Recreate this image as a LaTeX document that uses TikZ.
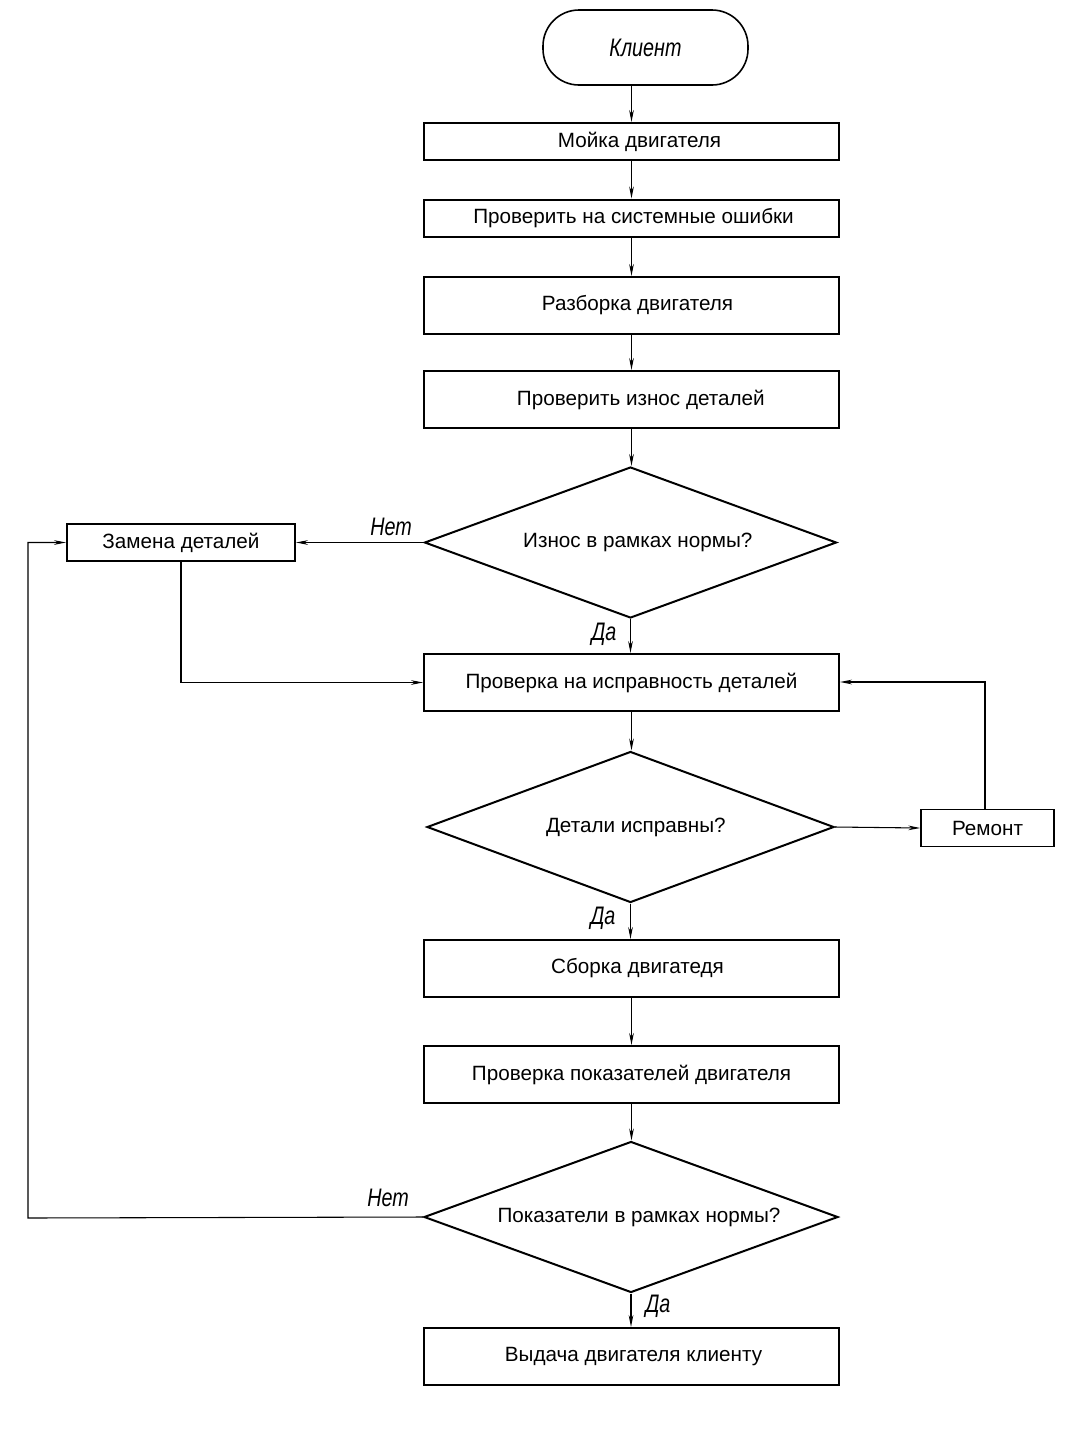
\documentclass[tikz,border=0pt]{standalone}
\usepackage{fontspec}
\setmainfont{Liberation Sans}
\newfontfamily\gost[FakeStretch=0.78]{Liberation Sans}
\usetikzlibrary{shapes.geometric,arrows.meta,calc}
\newcommand{\rsh}[1]{\hspace*{#1}}
\begin{document}
\begin{tikzpicture}[x=0.75pt,y=-0.75pt,
  font=\fontsize{15.5}{17}\selectfont,
  box/.style={draw,line width=1.5pt,rectangle,minimum width={415*0.75pt},inner sep=0pt},
  sbox/.style={box,minimum height={37*0.75pt}},
  tbox/.style={box,minimum height={57*0.75pt}},
  dec/.style={draw,line width=1.5pt,diamond,aspect=2.73,inner sep=0pt,minimum width={412*0.75pt},minimum height={151*0.75pt}},
  term/.style={draw,line width=1.2pt,rectangle,rounded corners=27pt,minimum width={205*0.75pt},minimum height={75*0.75pt}},
  lbl/.style={font=\gost\itshape\fontsize{19}{20}\selectfont},
  conn/.style={line width=0.8pt,-{Stealth[length=9pt,width=3.5pt]}},
  plain/.style={line width=0.8pt}]
\useasboundingbox (0,0) rectangle (1080,1432);
\fill[white] (0,0) rectangle (1080,1432);

\node[term] (t) at (645.5,47.5) {\gost\itshape\fontsize{19}{20}\selectfont Клиент};
\node[sbox] (b1) at (631.5,141.5) {\rsh{12pt}Мойка двигателя};
\node[sbox] (b2) at (631.5,218) {\rsh{3pt}Проверить на системные ошибки};
\node[tbox] (b3) at (631.5,305.5) {\rsh{9pt}Разборка двигателя};
\node[tbox] (b4) at (631.5,399.5) {\rsh{14pt}Проверить износ деталей};
\node[dec] (d1) at (630.5,542.5) {\rsh{11pt}Износ в рамках нормы?};
\node[sbox,minimum width={228*0.75pt}] (z) at (181,542.5) {Замена деталей};
\node[tbox] (b5) at (631.5,682.5) {Проверка на исправность деталей};
\node[dec,minimum width={407*0.75pt}] (d2) at (630.5,827) {\rsh{8pt}Детали исправны?};
\node[sbox,minimum width={133*0.75pt},line width=1.2pt] (r) at (987.5,828) {Ремонт};
\node[tbox] (b6) at (631.5,968.5) {\rsh{9pt}Сборка двигатедя};
\node[tbox] (b7) at (631.5,1074.5) {Проверка показателей двигателя};
\node[dec,minimum width={414*0.75pt}] (d3) at (631,1217) {\rsh{12pt}Показатели в рамках нормы?};
\node[tbox] (b8) at (631.5,1356.5) {\rsh{3pt}Выдача двигателя клиенту};

\draw[conn] (t.south -| b1.north) -- (b1.north);
\draw[conn] (b1) -- (b2);
\draw[conn] (b2) -- (b3);
\draw[conn] (b3) -- (b4);
\draw[conn] (b4.south) -- (b4.south |- d1.north);
\draw[conn] (d1.south) -- (d1.south |- b5.north);
\draw[conn] (b5.south) -- (b5.south |- d2.north);
\draw[conn] (d2.south) -- (d2.south |- b6.north);
\draw[conn] (b6) -- (b7);
\draw[conn] (b7.south) -- (b7.south |- d3.north);
\draw[conn] (d3.south) -- (d3.south |- b8.north);

\draw[conn] (d1.west) -- (z.east);
\draw[conn] (z.south) |- (b5.west);
\draw[conn] (d2.east) -- (r.west);
\coordinate (rt) at (985,682);
\draw[conn] (r.north -| rt) -- (rt) -- (b5.east |- rt);
\coordinate (lft) at (28,1218);
\draw[conn] (d3.west) -- (lft) |- (z.west);

\node[lbl] (n1) at (391,527) {Нет};
\node[lbl] (n2) at (604,634) {Да};
\node[lbl] (n3) at (603,918) {Да};
\node[lbl] (n4) at (388,1198) {Нет};
\node[lbl] (n5) at (658,1306) {Да};
\end{tikzpicture}
\end{document}
